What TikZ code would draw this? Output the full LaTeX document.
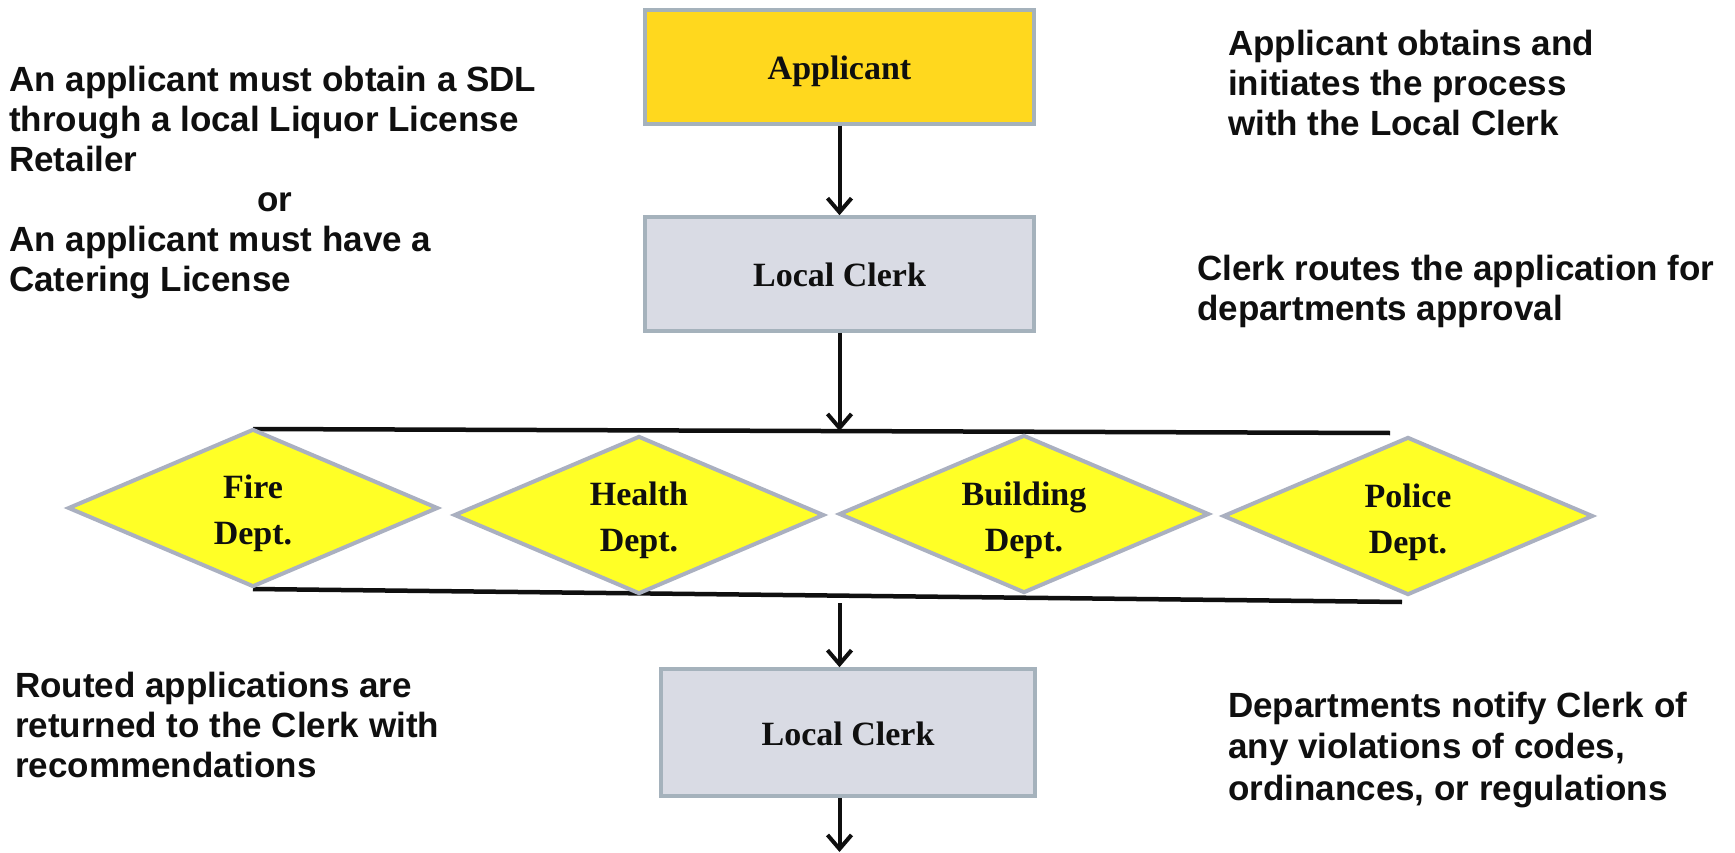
\documentclass[tikz,border=0pt]{standalone}
\usepackage{fontspec}
\setmainfont{Liberation Serif}
\newfontfamily\arialfont{Liberation Sans}
\usetikzlibrary{shapes.geometric,arrows.meta}
\definecolor{applfill}{RGB}{255,216,30}
\definecolor{clerkfill}{RGB}{217,219,228}
\definecolor{boxedge}{RGB}{165,178,188}
\definecolor{deptfill}{RGB}{255,255,38}
\definecolor{deptedge}{RGB}{170,176,192}
\definecolor{ink}{RGB}{15,15,15}
\begin{document}
\begin{tikzpicture}[x=1pt,y=-1pt,
  box/.style={rectangle, draw=boxedge, line width=3.5pt, inner sep=0pt, text=ink,
    text height=26pt, text depth=0pt,
    font=\fontsize{34}{40}\selectfont\bfseries},
  dept/.style={diamond, draw=deptedge, fill=deptfill, line width=4pt, inner sep=0pt,
    aspect=2.34, minimum width=370pt, minimum height=158pt, text=ink},
  deptlabel/.style={inner sep=0pt, align=center, text=ink,
    font=\fontsize{34}{46}\selectfont\bfseries},
  note/.style={anchor=north west, inner sep=0pt, align=left, text=ink,
    font=\arialfont\fontsize{35}{40}\selectfont\bfseries},
  flow/.style={-{Straight Barb[length=14pt,width=24pt,line width=4pt]}, line width=4pt, draw=ink},
  band/.style={line width=4.5pt, draw=ink}
]
\useasboundingbox[fill=white] (0,0) rectangle (1735,853);

% horizontal band lines
\coordinate (tl) at (253,429);
\coordinate (tr) at (1390,433);
\coordinate (bl) at (253,589);
\coordinate (br) at (1402,602);
\draw[band] (tl) -- (tr);
\draw[band] (bl) -- (br);

% boxes
\node[box, fill=applfill, minimum width=389pt, minimum height=114pt] (app) at (839.5,67) {Applicant};
\node[box, fill=clerkfill, minimum width=389pt, minimum height=114pt] (clerkA) at (839.5,274) {Local Clerk};
\node[box, fill=clerkfill, minimum width=374pt, minimum height=127pt] (clerkB) at (848,732.5) {Local Clerk};

% departments
\node[dept] (fire) at (253,508) {};
\node[dept] (health) at (639,515) {};
\node[dept] (building) at (1024,514) {};
\node[dept] (police) at (1408,516) {};
\node[deptlabel] (firet) at ([yshift=-5pt]fire.center) {Fire\\Dept.};
\node[deptlabel] (healtht) at ([yshift=-5pt]health.center) {Health\\Dept.};
\node[deptlabel] (buildingt) at ([yshift=-6pt]building.center) {Building\\Dept.};
\node[deptlabel] (policet) at ([yshift=-6pt]police.center) {Police\\Dept.};

% connector end points
\coordinate (bandin) at (839.5,431);
\coordinate (bandout) at (839.5,603);
\coordinate (fin) at (839.5,852);

\draw[flow] (app.south) -- (clerkA.north);
\draw[flow] (clerkA.south) -- (bandin);
\draw[flow] (bandout) -- (bandout |- clerkB.north);
\draw[flow] (bandout |- clerkB.south) -- (fin);

% notes
\node[note] (reqs) at (9,65.5) {An applicant must obtain a SDL\\through a local Liquor License\\Retailer\\\hspace*{248pt}or\\An applicant must have a\\Catering License};
\node[note] (n1) at (1228,29.5) {Applicant obtains and\\initiates the process\\with the Local Clerk};
\node[note] (n2) at (1197,254.5) {Clerk routes the application for\\departments approval};
\node[note] (n3) at (15,671.5) {Routed applications are\\returned to the Clerk with\\recommendations};
\node[note, font=\arialfont\fontsize{35}{41.5}\selectfont\bfseries] (n4) at (1228,691.5) {Departments notify Clerk of\\any violations of codes,\\ordinances, or regulations};
\end{tikzpicture}
\end{document}
